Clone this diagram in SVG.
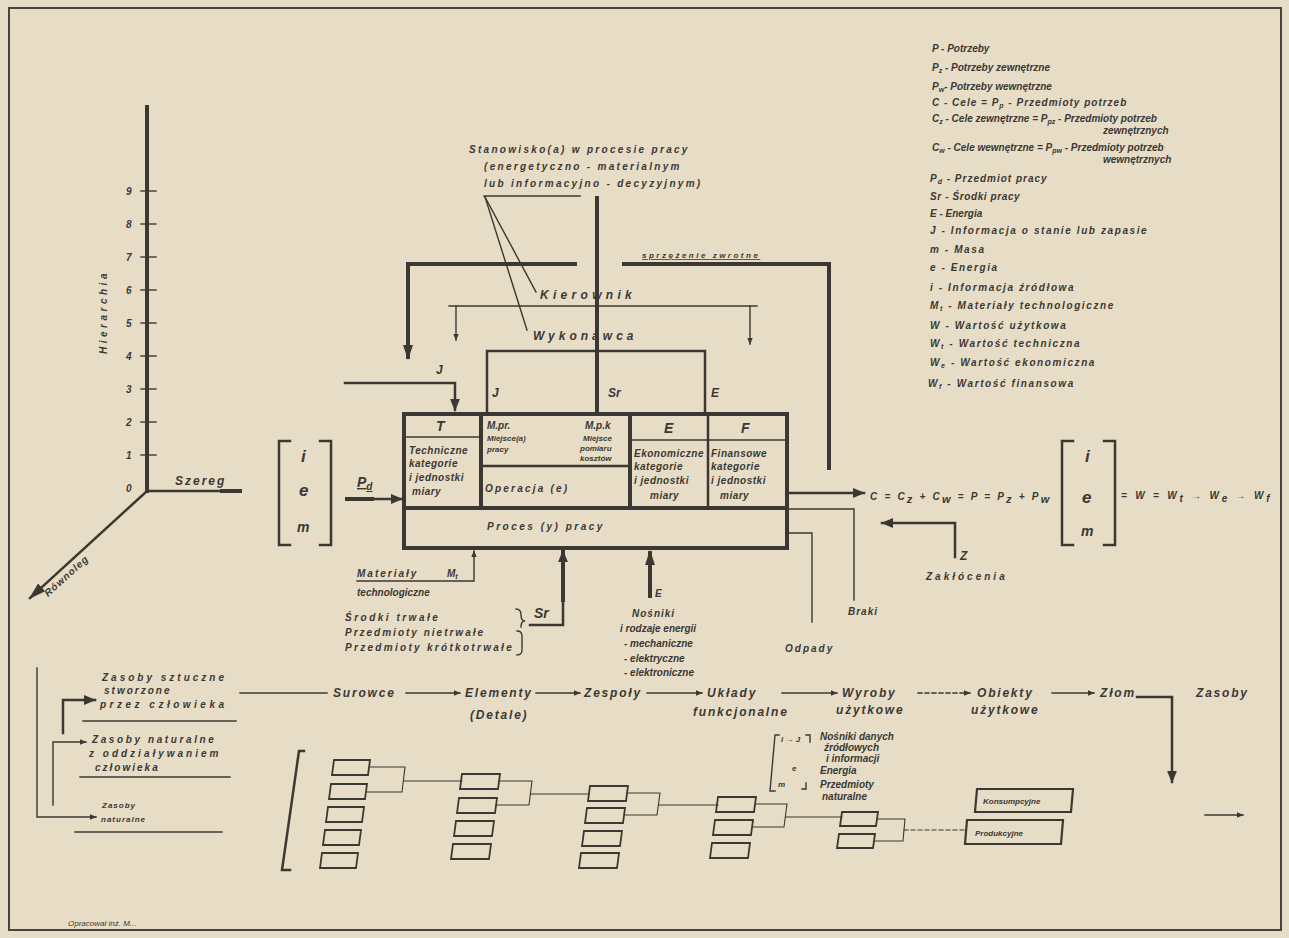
<svg xmlns="http://www.w3.org/2000/svg" width="1289" height="938" viewBox="0 0 1289 938">
<defs>
<style>
.t{font-family:"Liberation Sans",Arial,sans-serif;font-style:italic;font-weight:bold;fill:#3b3833;font-size:10px}
.s{font-size:8px}
.m{font-size:12px}
.b{font-size:14px}
.xb{font-size:17px}
.w1{letter-spacing:1px}
.w2{letter-spacing:2px}
.w3{letter-spacing:3px}
.ln{fill:none;stroke:#3b3833;stroke-linecap:square}
.k{stroke-width:4}
.md{stroke-width:2.5}
.tn{stroke-width:1.4}
.bx{fill:none;stroke:#3b3833;stroke-width:1.8}
</style>
<marker id="ah" viewBox="0 0 10 10" refX="9" refY="5" markerWidth="5" markerHeight="5" orient="auto"><path d="M0,1 L10,5 L0,9 z" fill="#3b3833"/></marker>
<marker id="ahs" viewBox="0 0 10 10" refX="9" refY="5" markerWidth="7" markerHeight="7" orient="auto"><path d="M0,2 L10,5 L0,8 z" fill="#3b3833"/></marker>
</defs>
<rect width="1289" height="938" fill="#e7ddc6"/>
<rect x="9" y="8" width="1272" height="922" fill="none" stroke="#47443e" stroke-width="2"/>

<g id="legend">
<text class="t" x="932" y="52">P - Potrzeby</text>
<text class="t" x="932" y="71">P<tspan font-size="7" dy="2">z</tspan><tspan dy="-2"> - Potrzeby zewnętrzne</tspan></text>
<text class="t" x="932" y="90">P<tspan font-size="7" dy="2">w</tspan><tspan dy="-2">- Potrzeby wewnętrzne</tspan></text>
<text class="t" x="932" y="106" letter-spacing="1">C - Cele = P<tspan font-size="7" dy="2">p</tspan><tspan dy="-2"> - Przedmioty potrzeb</tspan></text>
<text class="t" x="932" y="122">C<tspan font-size="7" dy="2">z</tspan><tspan dy="-2"> - Cele zewnętrzne = P</tspan><tspan font-size="7" dy="2">pz</tspan><tspan dy="-2"> - Przedmioty potrzeb</tspan></text>
<text class="t" x="1103" y="134">zewnętrznych</text>
<text class="t" x="932" y="151">C<tspan font-size="7" dy="2">w</tspan><tspan dy="-2"> - Cele wewnętrzne = P</tspan><tspan font-size="7" dy="2">pw</tspan><tspan dy="-2"> - Przedmioty potrzeb</tspan></text>
<text class="t" x="1103" y="163">wewnętrznych</text>
<text class="t" x="930" y="182" letter-spacing="1">P<tspan font-size="7" dy="2">d</tspan><tspan dy="-2"> - Przedmiot pracy</tspan></text>
<text class="t" x="930" y="200" letter-spacing="0.6">Sr - Środki pracy</text>
<text class="t" x="930" y="217">E - Energia</text>
<g class="t" letter-spacing="1.6">
<text x="930" y="234">J - Informacja o stanie lub zapasie</text>
<text x="930" y="253">m - Masa</text>
<text x="930" y="271">e - Energia</text>
<text x="930" y="291">i - Informacja źródłowa</text>
<text x="930" y="309">M<tspan font-size="7" dy="2">t</tspan><tspan dy="-2"> - Materiały technologiczne</tspan></text>
<text x="930" y="329">W - Wartość użytkowa</text>
<text x="930" y="347">W<tspan font-size="7" dy="2">t</tspan><tspan dy="-2"> - Wartość techniczna</tspan></text>
<text x="930" y="366">W<tspan font-size="7" dy="2">e</tspan><tspan dy="-2"> - Wartość ekonomiczna</tspan></text>
<text x="928" y="387">W<tspan font-size="7" dy="2">f</tspan><tspan dy="-2"> - Wartość finansowa</tspan></text>
</g>
</g>

<g id="axes">
<line class="ln k" x1="147" y1="107" x2="147" y2="491"/>
<g class="ln tn">
<line x1="141" y1="191" x2="156" y2="191"/><line x1="141" y1="224" x2="156" y2="224"/>
<line x1="141" y1="257" x2="156" y2="257"/><line x1="141" y1="290" x2="156" y2="290"/>
<line x1="141" y1="323" x2="156" y2="323"/><line x1="141" y1="356" x2="156" y2="356"/>
<line x1="141" y1="389" x2="156" y2="389"/><line x1="141" y1="422" x2="156" y2="422"/>
<line x1="141" y1="455" x2="156" y2="455"/>
</g>
<g class="t" font-size="11">
<text x="126" y="195">9</text><text x="126" y="228">8</text><text x="126" y="261">7</text>
<text x="126" y="294">6</text><text x="126" y="327">5</text><text x="126" y="360">4</text>
<text x="126" y="393">3</text><text x="126" y="426">2</text><text x="126" y="459">1</text>
<text x="126" y="492">0</text>
</g>
<text class="t" font-size="13" letter-spacing="3.5" transform="translate(107,312) rotate(-90)" text-anchor="middle">Hierarchia</text>
<line class="ln md" x1="147" y1="491" x2="238" y2="491"/>
<line class="ln k" x1="222" y1="491" x2="240" y2="491"/>
<text class="t m w2" x="175" y="485">Szereg</text>
<line class="ln md" x1="147" y1="491" x2="30" y2="598" marker-end="url(#ahs)"/>
<text class="t w1" font-size="11" transform="translate(48,597) rotate(-42)">Równoleg</text>
</g>

<g id="input-vector">
<path class="ln md" d="M290,441 H279 V545 H290"/>
<path class="ln md" d="M320,441 H331 V545 H320"/>
<text class="t xb" x="301" y="462">i</text>
<text class="t xb" x="299" y="496">e</text>
<text class="t b" x="297" y="532">m</text>
<text class="t b" x="357" y="487" text-decoration="underline">P<tspan font-size="10" dy="3">d</tspan></text>
</g>

<g id="process-box">
<rect x="404" y="414" width="383" height="134" fill="none" stroke="#3b3833" stroke-width="4"/>
<line class="ln k" x1="404" y1="508" x2="785" y2="508"/>
<line class="ln k" x1="481" y1="414" x2="481" y2="508"/>
<line class="ln k" x1="630" y1="414" x2="630" y2="508"/>
<line class="ln md" x1="708" y1="414" x2="708" y2="508"/>
<line class="ln tn" x1="404" y1="437" x2="481" y2="437"/>
<line class="ln tn" x1="630" y1="440" x2="787" y2="440"/>
<line class="ln md" x1="481" y1="466" x2="630" y2="466"/>
<text class="t b" x="436" y="431">T</text>
<text class="t b" x="664" y="433">E</text>
<text class="t b" x="741" y="433">F</text>
<g class="t" font-size="9" letter-spacing="0.5">
<text x="409" y="454">Techniczne</text><text x="409" y="467">kategorie</text><text x="409" y="481">i jednostki</text><text x="412" y="495">miary</text>
<text x="634" y="457">Ekonomiczne</text><text x="634" y="470">kategorie</text><text x="634" y="484">i jednostki</text><text x="650" y="499">miary</text>
<text x="711" y="457">Finansowe</text><text x="711" y="470">kategorie</text><text x="711" y="484">i jednostki</text><text x="720" y="499">miary</text>
</g>
<text class="t" x="487" y="429">M.pr.</text>
<text class="t" x="585" y="429">M.p.k</text>
<text class="t s" x="487" y="441">Miejsce(a)</text><text class="t s" x="487" y="452">pracy</text>
<text class="t s" x="583" y="441">Miejsce</text><text class="t s" x="580" y="451">pomiaru</text><text class="t s" x="580" y="461">kosztów</text>
<text class="t" font-size="13" letter-spacing="2.2" x="485" y="492">Operacja (e)</text>
<text class="t" font-size="11" letter-spacing="2.5" x="487" y="530">Proces (y) pracy</text>
</g>

<g id="workplace-label">
<g class="t" font-size="10.5" letter-spacing="2.3">
<text x="469" y="153">Stanowisko(a) w procesie pracy</text>
<text x="484" y="170">(energetyczno - materialnym</text>
<text x="484" y="187">lub informacyjno - decyzyjnym)</text>
</g>
<line class="ln tn" x1="484" y1="196" x2="580" y2="196"/>
</g>

<g id="kierownik">
<text class="t m" x="540" y="299" letter-spacing="4.3">Kierownik</text>
</g>
<g id="wykonawca">
<text class="t m" x="533" y="340" letter-spacing="4">Wykonawca</text>
</g>

<g id="output">
<text class="t" font-size="17" letter-spacing="2.2" x="870" y="500">C = C<tspan font-size="11" dy="3">z</tspan><tspan dy="-3"> + C</tspan><tspan font-size="11" dy="3">w</tspan><tspan dy="-3"> = P = P</tspan><tspan font-size="11" dy="3">z</tspan><tspan dy="-3"> + P</tspan><tspan font-size="11" dy="3">w</tspan></text>
<path class="ln md" d="M1073,441 H1062 V545 H1073"/>
<path class="ln md" d="M1104,441 H1115 V545 H1104"/>
<text class="t xb" x="1085" y="462">i</text>
<text class="t xb" x="1082" y="503">e</text>
<text class="t b" x="1081" y="536">m</text>
<text class="t" font-size="14" letter-spacing="2.8" x="1121" y="499">= W = W<tspan font-size="10" dy="3">t</tspan><tspan dy="-3"> → W</tspan><tspan font-size="10" dy="3">e</tspan><tspan dy="-3"> → W</tspan><tspan font-size="10" dy="3">f</tspan></text>
<text class="t m" x="960" y="560">Z</text>
<text class="t w3" font-size="11" x="926" y="580">Zakłócenia</text>
<text class="t w1" font-size="11" x="848" y="615">Braki</text>
<text class="t w2" font-size="11" x="785" y="652">Odpady</text>
</g>

<g id="inputs-below">
<text class="t w2" x="357" y="577">Materiały</text>
<text class="t" x="447" y="577">M<tspan font-size="7" dy="2">t</tspan></text>
<text class="t" x="357" y="596">technologiczne</text>
<text class="t" letter-spacing="2.5" x="345" y="621">Środki  trwałe</text>
<text class="t w2" x="345" y="636">Przedmioty nietrwałe</text>
<text class="t" letter-spacing="2.3" x="345" y="651">Przedmioty krótkotrwałe</text>
<path class="ln tn" d="M516,609 q5,0 5,6 q0,6 4,6 q-4,0 -4,6"/>
<path class="ln tn" d="M517,631 q5,0 5,5 v14 q0,5 -5,5"/>
<text class="t b" x="534" y="618">Sr</text>
<text class="t" x="655" y="597">E</text>
<text class="t w1" x="632" y="617">Nośniki</text>
<text class="t" x="620" y="632">i rodzaje energii</text>
<text class="t" x="624" y="647">- mechaniczne</text>
<text class="t" x="624" y="662">- elektryczne</text>
<text class="t" x="624" y="676">- elektroniczne</text>
</g>

<g id="connectors">
<line class="ln md" x1="347" y1="499" x2="402" y2="499" marker-end="url(#ah)"/>
<line class="ln k" x1="347" y1="499" x2="372" y2="499"/>
<line class="ln tn" x1="485" y1="197" x2="536" y2="292"/>
<line class="ln tn" x1="485" y1="197" x2="527" y2="330"/>
<line class="ln k" x1="597" y1="198" x2="597" y2="412"/>
<path class="ln md" d="M487,412 V351 H705 V412"/>
<text class="t m" x="492" y="397">J</text>
<text class="t m" x="608" y="397">Sr</text>
<text class="t m" x="711" y="397">E</text>
<path class="ln k" d="M575,264 H408 V357"/>
<path d="M403,345 L408,360 L413,345 z" fill="#3b3833"/>
<path class="ln k" d="M624,264 H829 V468"/>
<text class="t s" letter-spacing="2.5" x="642" y="258" text-decoration="underline">sprzężenie  zwrotne</text>
<line class="ln tn" x1="449" y1="306" x2="757" y2="306"/>
<line class="ln tn" x1="456" y1="306" x2="456" y2="340" marker-end="url(#ah)"/>
<line class="ln tn" x1="750" y1="306" x2="750" y2="344" marker-end="url(#ah)"/>
<path class="ln md" d="M345,383 H455 V410" marker-end="url(#ah)"/>
<text class="t m" x="436" y="374">J</text>
<line class="ln md" x1="787" y1="493" x2="864" y2="493" marker-end="url(#ah)"/>
<path class="ln md" d="M955,557 V523 H882" marker-end="url(#ah)"/>
<path class="ln tn" d="M787,509 H854 V600"/>
<path class="ln tn" d="M787,533 H812 V622"/>
<path class="ln tn" d="M357,581 H474 V551" marker-end="url(#ah)"/>
<path class="ln md" d="M530,625 H563 V551" marker-end="url(#ah)"/>
<line class="ln k" x1="563" y1="551" x2="563" y2="600"/>
<line class="ln k" x1="650" y1="596" x2="650" y2="553"/>
<path d="M645,565 L650,550 L655,565 z" fill="#3b3833"/>
</g>

<g id="resources">
<text class="t w3" x="102" y="681">Zasoby sztuczne</text>
<text class="t w2" x="104" y="694">stworzone</text>
<text class="t" letter-spacing="3.5" x="100" y="708">przez człowieka</text>
<line class="ln tn" x1="83" y1="721" x2="236" y2="721"/>
<text class="t" letter-spacing="2.6" x="92" y="743">Zasoby naturalne</text>
<text class="t w3" x="89" y="757">z oddziaływaniem</text>
<text class="t w2" x="95" y="771">człowieka</text>
<line class="ln tn" x1="80" y1="777" x2="230" y2="777"/>
<text class="t s w1" x="102" y="808">Zasoby</text>
<text class="t s w1" x="101" y="822">naturalne</text>
<line class="ln tn" x1="75" y1="832" x2="222" y2="832"/>
<path class="ln tn" d="M37,668 V817 H96" marker-end="url(#ah)"/>
<path class="ln tn" d="M53,805 V742 H86" marker-end="url(#ah)"/>
<path class="ln md" d="M63,733 V700 H95" marker-end="url(#ah)"/>
</g>

<g id="flow">
<g class="t m" letter-spacing="1.8">
<text x="333" y="697">Surowce</text>
<text x="465" y="697">Elementy</text>
<text x="470" y="719">(Detale)</text>
<text x="584" y="697">Zespoły</text>
<text x="707" y="697">Układy</text>
<text x="693" y="716">funkcjonalne</text>
<text x="842" y="697">Wyroby</text>
<text x="836" y="714">użytkowe</text>
<text x="977" y="697">Obiekty</text>
<text x="971" y="714">użytkowe</text>
<text x="1100" y="697">Złom</text>
<text x="1196" y="697">Zasoby</text>
</g>
<g class="ln tn">
<line x1="240" y1="693" x2="327" y2="693"/>
<line x1="406" y1="693" x2="460" y2="693" marker-end="url(#ah)"/>
<line x1="536" y1="693" x2="580" y2="693" marker-end="url(#ah)"/>
<line x1="647" y1="693" x2="702" y2="693" marker-end="url(#ah)"/>
<line x1="782" y1="693" x2="837" y2="693" marker-end="url(#ah)"/>
<line x1="918" y1="693" x2="970" y2="693" stroke-dasharray="4 3" marker-end="url(#ah)"/>
<line x1="1052" y1="693" x2="1094" y2="693" marker-end="url(#ah)"/>
<path class="md" d="M1137,697 H1172 V782" marker-end="url(#ah)"/>
<line x1="1205" y1="815" x2="1243" y2="815" marker-end="url(#ah)"/>
</g>
</g>

<g id="tree">
<path class="ln md" d="M304,751 H299 L282,870 H290"/>
<g class="bx">
<path d="M334,760 h36 l-2,15 h-36 z"/>
<path d="M331,784 h36 l-2,15 h-36 z"/>
<path d="M328,807 h36 l-2,15 h-36 z"/>
<path d="M325,830 h36 l-2,15 h-36 z"/>
<path d="M322,853 h36 l-2,15 h-36 z"/>
<path d="M462,774 h38 l-2,15 h-38 z"/>
<path d="M459,798 h38 l-2,15 h-38 z"/>
<path d="M456,821 h38 l-2,15 h-38 z"/>
<path d="M453,844 h38 l-2,15 h-38 z"/>
<path d="M590,786 h38 l-2,15 h-38 z"/>
<path d="M587,808 h38 l-2,15 h-38 z"/>
<path d="M584,831 h38 l-2,15 h-38 z"/>
<path d="M581,853 h38 l-2,15 h-38 z"/>
<path d="M718,797 h38 l-2,15 h-38 z"/>
<path d="M715,820 h38 l-2,15 h-38 z"/>
<path d="M712,843 h38 l-2,15 h-38 z"/>
<path d="M842,812 h36 l-2,14 h-36 z"/>
<path d="M839,834 h36 l-2,14 h-36 z"/>
</g>
<g class="ln" stroke-width="1.1">
<path d="M370,767 H405 L402,792 H367"/>
<line x1="404" y1="781" x2="462" y2="781"/>
<path d="M500,781 H532 L529,805 H497"/>
<line x1="531" y1="794" x2="589" y2="794"/>
<path d="M628,793 H660 L657,815 H625"/>
<line x1="659" y1="805" x2="718" y2="805"/>
<path d="M756,804 H787 L784,827 H753"/>
<line x1="786" y1="817" x2="842" y2="817"/>
<path d="M878,819 H905 L903,841 H875"/>
<line x1="904" y1="830" x2="965" y2="830" stroke-dasharray="4 3"/>
</g>
<g id="konsumpcyjne">
<path d="M977,789 h96 l-2,23 h-96 z" fill="none" stroke="#3b3833" stroke-width="2.2"/>
<text class="t s" x="983" y="804">Konsumpcyjne</text>
</g>
<g id="produkcyjne">
<path d="M967,820 h96 l-2,24 h-96 z" fill="none" stroke="#3b3833" stroke-width="2.2"/>
<text class="t s" x="975" y="836">Produkcyjne</text>
</g>
<path class="ln tn" d="M779,735 H775 L770,791 H775"/>
<text class="t s" x="781" y="742">i → J</text>
<path class="ln tn" d="M806,735 H810 V742"/>
<text class="t s" x="792" y="771">e</text>
<text class="t s" x="778" y="787">m</text>
<path class="ln tn" d="M802,789 H806 V783"/>
<g class="t" font-size="7.5">
<text x="820" y="740">Nośniki danych</text>
<text x="824" y="751">źródłowych</text>
<text x="826" y="762">i informacji</text>
<text x="820" y="774">Energia</text>
<text x="820" y="788">Przedmioty</text>
<text x="822" y="800">naturalne</text>
</g>
</g>

<text class="t s" x="68" y="926" fill="#6a665e" style="font-weight:normal">Opracował  inż. M...</text>
</svg>
